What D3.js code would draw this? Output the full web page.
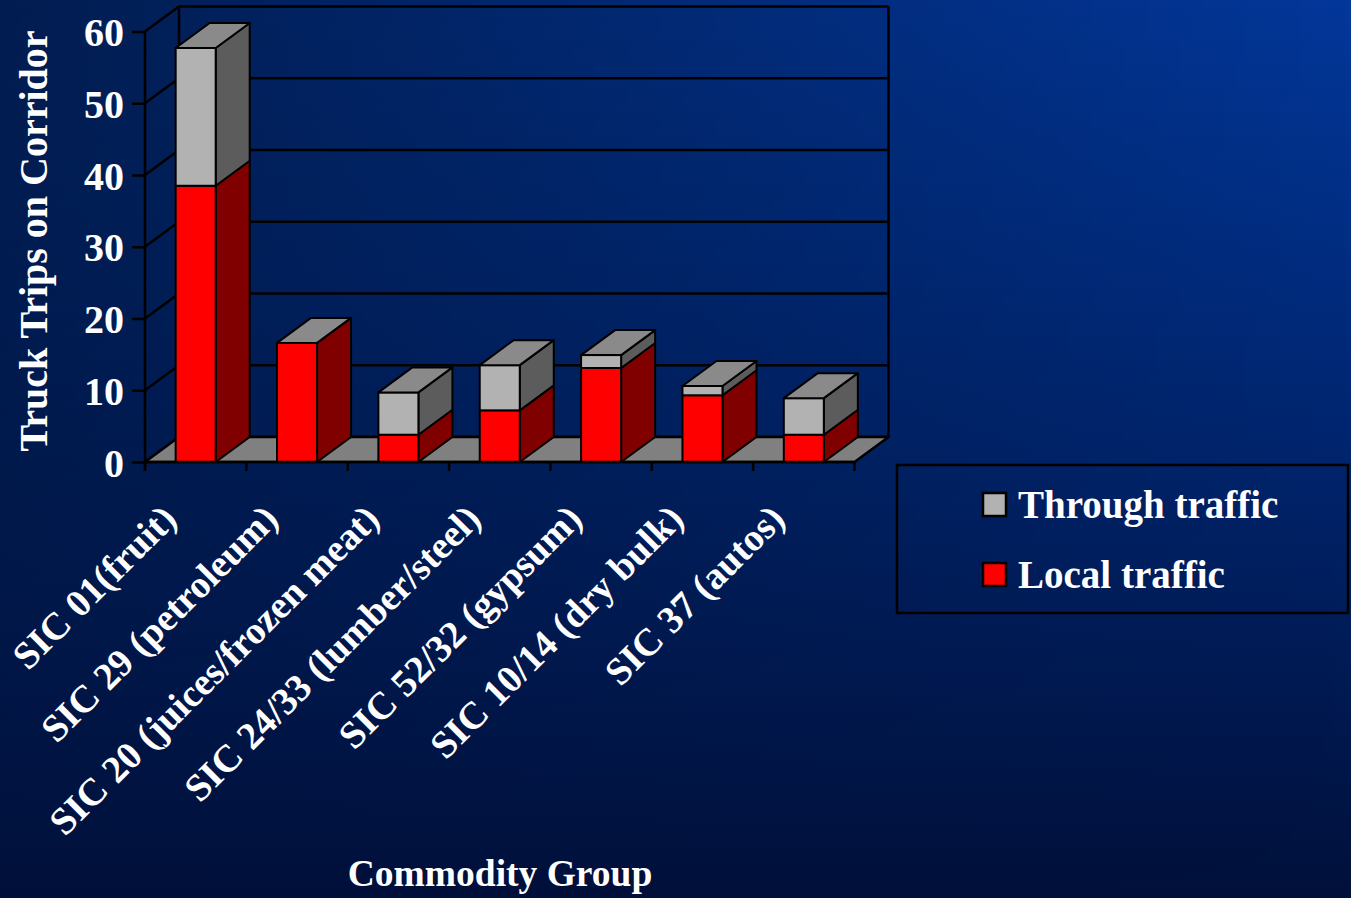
<!DOCTYPE html>
<html>
<head>
<meta charset="utf-8">
<script src="https://cdn.jsdelivr.net/npm/d3@7"></script>
<style>
  html, body { margin: 0; padding: 0; background: #00133d; }
  svg { display: block; }
  text { font-family: "Liberation Serif", "Times New Roman", serif; font-weight: bold; fill: #ffffff; }
</style>
</head>
<body>
<svg id="chart" width="1351" height="898"></svg>
<script>
// Truck trips per commodity group, split into local and through traffic
const categories = [
  "SIC 01(fruit)",
  "SIC 29 (petroleum)",
  "SIC 20 (juices/frozen meat)",
  "SIC 24/33 (lumber/steel)",
  "SIC 52/32 (gypsum)",
  "SIC 10/14 (dry bulk)",
  "SIC 37 (autos)"
];
const localTraffic   = [38.5, 16.6, 3.8, 7.2, 13.1, 9.3, 3.8];
const throughTraffic = [19.2, 0.0, 5.9, 6.3, 1.8, 1.3, 5.1];
const yTicks = [0, 10, 20, 30, 40, 50, 60];
const seriesNames = ["Through traffic", "Local traffic"];

const W = 1351, H = 898;
const svg = d3.select("#chart");
const defs = svg.append("defs");

// background: blue getting darker towards the bottom and the left
const bg = defs.append("linearGradient").attr("id", "bgV").attr("x1", 0).attr("y1", 0).attr("x2", 0).attr("y2", 1);
bg.append("stop").attr("offset", "0%").attr("stop-color", "#03379a");
bg.append("stop").attr("offset", "50%").attr("stop-color", "#00256e");
bg.append("stop").attr("offset", "100%").attr("stop-color", "#00103a");
const shade = defs.append("linearGradient").attr("id", "bgH").attr("x1", 0).attr("y1", 0).attr("x2", 1).attr("y2", 0);
shade.append("stop").attr("offset", "0%").attr("stop-color", "#000").attr("stop-opacity", 0.48);
shade.append("stop").attr("offset", "100%").attr("stop-color", "#000").attr("stop-opacity", 0);
const fadeG = defs.append("linearGradient").attr("id", "fadeV").attr("x1", 0).attr("y1", 0).attr("x2", 0).attr("y2", 1);
fadeG.append("stop").attr("offset", "0%").attr("stop-color", "#fff");
fadeG.append("stop").attr("offset", "55%").attr("stop-color", "#999");
fadeG.append("stop").attr("offset", "100%").attr("stop-color", "#000");
defs.append("mask").attr("id", "fadeMask")
  .append("rect").attr("width", W).attr("height", H).attr("fill", "url(#fadeV)");

svg.append("rect").attr("width", W).attr("height", H).attr("fill", "url(#bgV)");
svg.append("rect").attr("width", W).attr("height", H).attr("fill", "url(#bgH)").attr("mask", "url(#fadeMask)");

// scales
const x = d3.scaleBand().domain(categories).range([145, 854.5]);
const y = d3.scaleLinear().domain([0, 60]).range([462, 31.5]);
const DX = 34, DY = -25;          // depth offset of the 3-D box
const barW = x.bandwidth() * 0.395;
const x0 = x.range()[0], x1 = x.range()[1];
const ink = "#000";

const plot = svg.append("g");

// back wall grid and frame
plot.selectAll("line.grid").data(yTicks).join("line")
  .attr("x1", x0 + DX).attr("x2", x1 + DX)
  .attr("y1", d => y(d) + DY).attr("y2", d => y(d) + DY)
  .attr("stroke", ink).attr("stroke-width", 2.5);
plot.selectAll("line.wall").data([x0 + DX, x1 + DX]).join("line")
  .attr("x1", d => d).attr("x2", d => d)
  .attr("y1", y(60) + DY).attr("y2", y(0) + DY)
  .attr("stroke", ink).attr("stroke-width", 2.5);
// side wall grid (diagonals)
plot.selectAll("line.side").data(yTicks).join("line")
  .attr("x1", x0).attr("y1", d => y(d))
  .attr("x2", x0 + DX).attr("y2", d => y(d) + DY)
  .attr("stroke", ink).attr("stroke-width", 2.5);

// floor
plot.append("polygon")
  .attr("points", [[x0, y(0)], [x1, y(0)], [x1 + DX, y(0) + DY], [x0 + DX, y(0) + DY]].map(p => p.join(",")).join(" "))
  .attr("fill", "#808080").attr("stroke", ink).attr("stroke-width", 2.5).attr("stroke-linejoin", "round");

// stacked 3-D columns
const colors = {
  local:   { front: "#ff0000", side: "#800000" },
  through: { front: "#b2b2b2", side: "#5c5c5c" }
};
const topColor = "#8a8a8a";
const pts = arr => arr.map(p => p.join(",")).join(" ");

categories.forEach((cat, i) => {
  const g = plot.append("g");
  const bx0 = x(cat) + (x.bandwidth() - barW) / 2;
  const bx1 = bx0 + barW;
  const segs = [
    { a: 0, b: localTraffic[i], c: colors.local },
    { a: localTraffic[i], b: localTraffic[i] + throughTraffic[i], c: colors.through }
  ];
  segs.forEach(s => {
    if (s.b - s.a <= 0) return;
    g.append("polygon")
      .attr("points", pts([[bx1, y(s.a)], [bx1 + DX, y(s.a) + DY], [bx1 + DX, y(s.b) + DY], [bx1, y(s.b)]]))
      .attr("fill", s.c.side).attr("stroke", ink).attr("stroke-width", 2).attr("stroke-linejoin", "round");
    g.append("rect")
      .attr("x", bx0).attr("y", y(s.b)).attr("width", barW).attr("height", y(s.a) - y(s.b))
      .attr("fill", s.c.front).attr("stroke", ink).attr("stroke-width", 2);
  });
  const top = localTraffic[i] + throughTraffic[i];
  g.append("polygon")
    .attr("points", pts([[bx0, y(top)], [bx1, y(top)], [bx1 + DX, y(top) + DY], [bx0 + DX, y(top) + DY]]))
    .attr("fill", topColor).attr("stroke", ink).attr("stroke-width", 2).attr("stroke-linejoin", "round");
});

// value axis
const yAxis = d3.axisLeft(y).tickValues(yTicks).tickSize(13).tickPadding(8).tickFormat(d3.format("d"));
const ya = svg.append("g").attr("transform", `translate(${x0},0)`).call(yAxis);
ya.select(".domain").remove();
ya.selectAll(".tick line").attr("stroke", ink).attr("stroke-width", 2.5);
ya.selectAll(".tick text").attr("fill", "#fff").style("font-size", "40px").attr("dy", "0.35em");
svg.append("line").attr("x1", x0).attr("x2", x0).attr("y1", y(60)).attr("y2", y(0) + 9)
  .attr("stroke", ink).attr("stroke-width", 2.5);

// category axis
svg.append("line").attr("x1", x0).attr("x2", x1).attr("y1", y(0)).attr("y2", y(0))
  .attr("stroke", ink).attr("stroke-width", 2.5);
const bounds = categories.map(c => x(c)).concat([x1]);
svg.selectAll("line.xtick").data(bounds).join("line")
  .attr("x1", d => d).attr("x2", d => d).attr("y1", y(0)).attr("y2", y(0) + 9)
  .attr("stroke", ink).attr("stroke-width", 2.5);
svg.selectAll("text.cat").data(categories).join("text")
  .attr("class", "cat")
  .attr("text-anchor", "end")
  .attr("transform", d => `translate(${x(d) + x.bandwidth() / 2 - 17},521) rotate(-45)`)
  .style("font-size", "38.5px")
  .text(d => d);

// axis titles
svg.append("text")
  .attr("transform", "translate(47,241) rotate(-90)")
  .attr("text-anchor", "middle")
  .style("font-size", "40px")
  .text("Truck Trips on Corridor");
svg.append("text")
  .attr("x", 500).attr("y", 886)
  .attr("text-anchor", "middle")
  .style("font-size", "37.5px")
  .text("Commodity Group");

// legend
const lg = svg.append("g");
lg.append("rect").attr("x", 897).attr("y", 465).attr("width", 451).attr("height", 148)
  .attr("fill", "none").attr("stroke", ink).attr("stroke-width", 2.5);
const legendFill = [colors.through.front, colors.local.front];
const legendY = [518, 588];
seriesNames.forEach((name, i) => {
  lg.append("rect").attr("x", 983).attr("y", legendY[i] - 25).attr("width", 23).attr("height", 23)
    .attr("fill", legendFill[i]).attr("stroke", ink).attr("stroke-width", 2.5);
  lg.append("text").attr("x", 1018).attr("y", legendY[i]).style("font-size", "39px").text(name);
});
</script>
</body>
</html>
